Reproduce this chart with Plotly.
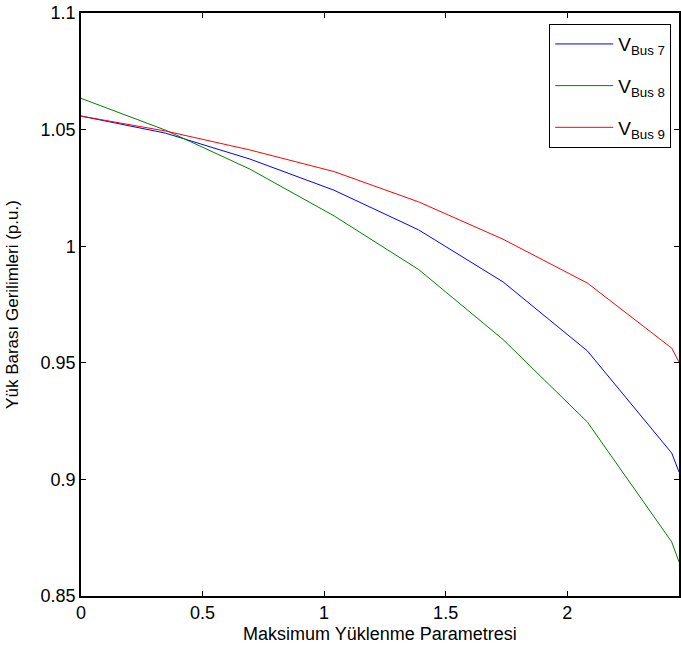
import plotly.graph_objects as go

x_vals = [0, 0.347, 0.694, 1.041, 1.389, 1.736, 2.083, 2.43, 2.46]
bus7 = [1.0558, 1.0485, 1.0374, 1.0240, 1.0070, 0.9847, 0.9551, 0.9113, 0.9032]
bus8 = [1.0634, 1.0498, 1.0331, 1.0130, 0.9900, 0.9600, 0.9246, 0.8732, 0.8646]
bus9 = [1.0558, 1.0494, 1.0413, 1.0320, 1.0190, 1.0030, 0.9842, 0.9563, 0.9503]

names = ["V<sub>Bus 7</sub>", "V<sub>Bus 8</sub>", "V<sub>Bus 9</sub>"]
colors = ["#0000FF", "#008000", "#FF0000"]

x_ticks = [0, 0.5, 1, 1.5, 2]
y_ticks = [0.85, 0.9, 0.95, 1, 1.05, 1.1]
y_labels = ["0.85", "0.9", "0.95", "1", "1.05", "1.1"]

fig = go.Figure()
for i, (ys, nm, c) in enumerate(zip([bus7, bus8, bus9], names, colors)):
    fig.add_trace(go.Scatter(x=x_vals, y=ys, mode="lines", name=nm,
                             legendgroup="g%d" % i,
                             line=dict(color=c, width=1)))

font_fam = "Liberation Sans, Arial, sans-serif"
fig.update_layout(
    width=681, height=660,
    margin=dict(l=81, r=0, t=13, b=64),
    paper_bgcolor="white", plot_bgcolor="white",
    font=dict(family=font_fam, color="black"),
    showlegend=True,
    legend=dict(x=0.783, y=0.981, xanchor="left", yanchor="top",
                bordercolor="black", borderwidth=1, bgcolor="white",
                font=dict(size=19, family=font_fam), tracegroupgap=14,
                itemwidth=58, traceorder="grouped"),
    xaxis=dict(range=[0, 2.46], tickvals=x_ticks, ticktext=["0", "0.5", "1", "1.5", "2"],
               showgrid=False, zeroline=False, showline=True, linecolor="black", linewidth=1.5,
               mirror="ticks", ticks="inside", ticklen=5, tickcolor="black",
               tickfont=dict(size=18),
               title=dict(text="Maksimum Yüklenme Parametresi", font=dict(size=18), standoff=5)),
    yaxis=dict(range=[0.85, 1.1], tickvals=y_ticks, ticktext=y_labels,
               showgrid=False, zeroline=False, showline=True, linecolor="black", linewidth=1.5,
               mirror="ticks", ticks="inside", ticklen=5, tickcolor="black",
               tickfont=dict(size=18),
               title=dict(text="Yük Barası Gerilimleri (p.u.)", font=dict(size=17), standoff=18)),
)

fig.write_html("out.html")
